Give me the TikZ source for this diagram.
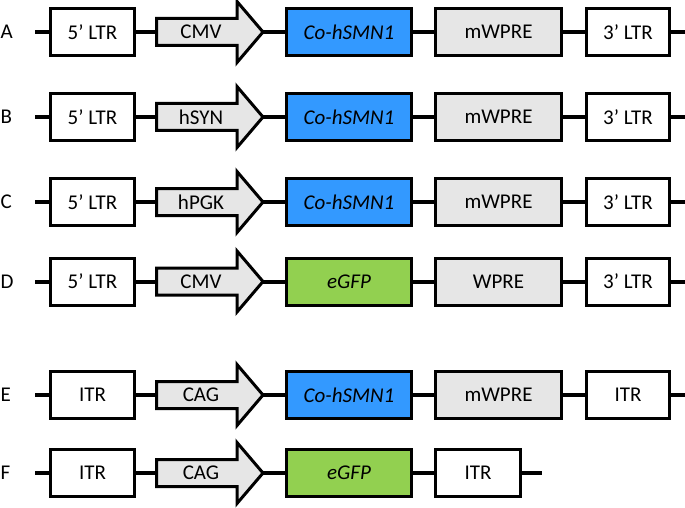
\documentclass[tikz,border=0pt]{standalone}
\usepackage{fontspec}
\setmainfont{Carlito}
\definecolor{geneblue}{HTML}{3399FF}
\definecolor{genegreen}{HTML}{92D050}
\definecolor{partgray}{HTML}{E6E6E6}
\tikzset{
  txt/.style={font=\fontsize{21}{25}\selectfont},
  part/.style={txt, draw=black, line width=3pt, minimum height=47pt, inner sep=0pt},
  plain/.style={part, fill=white},
  grey/.style={part, fill=partgray},
  blue/.style={part, fill=geneblue, font=\fontsize{21}{25}\selectfont\itshape},
  green/.style={part, fill=genegreen, font=\fontsize{21}{25}\selectfont\itshape},
  prom/.style={draw=black, fill=partgray, line width=3pt, line join=miter},
  link/.style={draw=black, line width=4pt},
  lbl/.style={txt, anchor=west, inner sep=0pt},
}
% #1 id, #2 y, #3 letter, #4 left, #5 promoter, #6 gene style, #7 gene, #8 wpre, #9 right
\newcommand\construct[9]{%
  \begin{scope}[shift={(0,#2)}]
    \node[lbl] (lab#1) at (0.5,0) {#3};
    \coordinate (s#1) at (35,0);
    \coordinate (e#1) at (685,0);
    \coordinate (pin#1) at (156.5,0);
    \coordinate (ptip#1) at (263,0);
    \draw[prom] (156.5,-13.5) -- (237,-13.5) -- (237,-30.5) -- (263,0) -- (237,30.5) -- (237,13.5) -- (156.5,13.5) -- cycle;
    \node[txt, inner sep=0pt] (p#1) at (201,0) {#5};
    \node[plain, minimum width=84pt] (b1#1) at (92.5,0) {#4};
    \node[#6, minimum width=125pt] (b3#1) at (349,0) {#7};
    \node[grey, minimum width=126pt] (b4#1) at (498.5,0) {#8};
    \node[plain, minimum width=83pt] (b5#1) at (628,0) {#9};
    \draw[link] (s#1) -- (b1#1.west);
    \draw[link] (b1#1.east) -- (pin#1);
    \draw[link] (ptip#1) -- (b3#1.west);
    \draw[link] (b3#1.east) -- (b4#1.west);
    \draw[link] (b4#1.east) -- (b5#1.west);
    \draw[link] (b5#1.east) -- (e#1);
  \end{scope}}
\begin{document}
\begin{tikzpicture}[x=1pt,y=-1pt]
  \useasboundingbox (0,0) rectangle (685,508);
  \construct{A}{32}{A}{5’ LTR}{CMV}{blue}{Co-hSMN1}{mWPRE}{3’ LTR}
  \construct{B}{117}{B}{5’ LTR}{hSYN}{blue}{Co-hSMN1}{mWPRE}{3’ LTR}
  \construct{C}{202}{C}{5’ LTR}{hPGK}{blue}{Co-hSMN1}{mWPRE}{3’ LTR}
  \construct{D}{281.5}{D}{5’ LTR}{CMV}{green}{eGFP}{WPRE}{3’ LTR}
  \construct{E}{395}{E}{ITR}{CAG}{blue}{Co-hSMN1}{mWPRE}{ITR}
  % row F
  \begin{scope}[shift={(0,473)}]
    \node[lbl] (labF) at (0.5,0) {F};
    \coordinate (sF) at (35,0);
    \coordinate (eF) at (542,0);
    \coordinate (pinF) at (156.5,0);
    \coordinate (ptipF) at (263,0);
    \draw[prom] (156.5,-13.5) -- (237,-13.5) -- (237,-30.5) -- (263,0) -- (237,30.5) -- (237,13.5) -- (156.5,13.5) -- cycle;
    \node[txt, inner sep=0pt] (pF) at (201,0) {CAG};
    \node[plain, minimum width=84pt] (b1F) at (92.5,0) {ITR};
    \node[green, minimum width=125pt] (b3F) at (349,0) {eGFP};
    \node[plain, minimum width=85pt] (b4F) at (478,0) {ITR};
    \draw[link] (sF) -- (b1F.west);
    \draw[link] (b1F.east) -- (pinF);
    \draw[link] (ptipF) -- (b3F.west);
    \draw[link] (b3F.east) -- (b4F.west);
    \draw[link] (b4F.east) -- (eF);
  \end{scope}
\end{tikzpicture}
\end{document}
